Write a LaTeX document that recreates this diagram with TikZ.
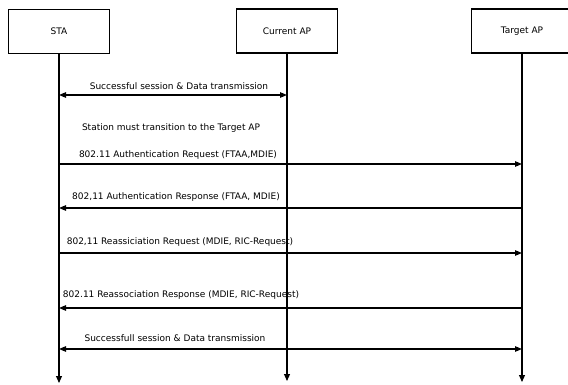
\documentclass[tikz,border=0pt]{standalone}
\usepackage{fontspec}
\setmainfont{DejaVu Sans}
\usetikzlibrary{arrows.meta}
\begin{document}
\begin{tikzpicture}[x=1pt,y=-1pt,
  entity/.style={draw,line width=1.1pt,minimum width=101pt,minimum height=44pt,inner sep=0pt,font=\fontsize{9pt}{10pt}\selectfont},
  lifeline/.style={line width=1.1pt,-{Triangle[length=7pt,width=6pt]}},
  msg/.style={line width=1.1pt,-{Triangle[length=7pt,width=5.5pt]}},
  both/.style={line width=1.1pt,{Triangle[length=7pt,width=5.5pt]}-{Triangle[length=7pt,width=5.5pt]}},
  lbl/.style={inner sep=0pt,font=\fontsize{9pt}{10pt}\selectfont}]
\useasboundingbox (0,0) rectangle (568,385);

% participants
\node[entity] (sta) at (59,31.5) {STA};
\node[entity] (cur) at (287,31) {Current AP};
\node[entity] (tgt) at (522,31) {Target AP};

% ends of the lifelines
\coordinate (staEnd) at (59,383);
\coordinate (curEnd) at (287,381);
\coordinate (tgtEnd) at (522,382);
\draw[lifeline] (sta.south) -- (staEnd);
\draw[lifeline] (cur.south) -- (curEnd);
\draw[lifeline] (tgt.south) -- (tgtEnd);

% message anchor points on the lifelines
\foreach \n/\y in {a/95,b/164,c/208,d/253,e/308,f/349}{
  \coordinate (sta\n) at (59,\y);
  \coordinate (cur\n) at (287,\y);
  \coordinate (tgt\n) at (522,\y);
}

\draw[both] (staa) -- (cura);
\node[lbl] (t1) at (179,86) {Successful session \& Data transmission};

\node[lbl] (t2) at (171,128) {Station must transition to the Target AP};

\draw[msg] (stab) -- (tgtb);
\node[lbl] (t3) at (178,155) {802.11 Authentication Request (FTAA,MDIE)};

\draw[msg] (tgtc) -- (stac);
\node[lbl] (t4) at (176,197) {802,11 Authentication Response (FTAA, MDIE)};

\draw[msg] (stad) -- (tgtd);
\node[lbl] (t5) at (180,242) {802,11 Reassiciation Request (MDIE, RIC-Request)};

\draw[msg] (tgte) -- (stae);
\node[lbl] (t6) at (181,295) {802.11 Reassociation Response (MDIE, RIC-Request)};

\draw[both] (staf) -- (tgtf);
\node[lbl] (t7) at (175,338) {Successfull session \& Data transmission};
\end{tikzpicture}
\end{document}
